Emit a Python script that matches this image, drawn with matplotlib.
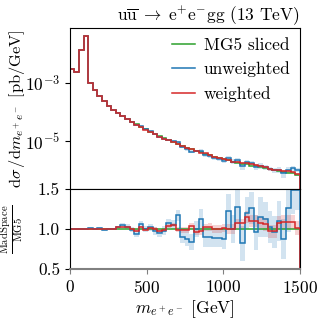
import numpy as np
import matplotlib
matplotlib.use("Agg")
import matplotlib.pyplot as plt
from matplotlib.ticker import NullLocator, FixedLocator

plt.rcParams["font.family"] = "serif"
plt.rcParams["font.serif"] = ["cmr10"]
plt.rcParams["mathtext.fontset"] = "cm"
plt.rcParams["axes.formatter.use_mathtext"] = True
plt.rcParams["font.size"] = 12.5

# 50 bins of 30 GeV
bin_edges = list(range(0, 1501, 30))

mg5_sliced = [
    2.95e-3, 2.45e-3, 1.35e-2, 4.07e-2, 1.00e-3, 5.62e-4, 3.55e-4, 2.40e-4, 1.58e-4, 1.17e-4,
    9.12e-5, 7.24e-5, 5.75e-5, 4.57e-5, 3.72e-5, 3.02e-5, 2.51e-5, 2.09e-5, 1.74e-5, 1.45e-5,
    1.23e-5, 1.05e-5, 9.12e-6, 7.76e-6, 6.76e-6, 5.89e-6, 5.13e-6, 4.57e-6, 4.07e-6, 3.63e-6,
    3.24e-6, 2.88e-6, 2.63e-6, 2.34e-6, 2.14e-6, 1.95e-6, 1.78e-6, 1.66e-6, 1.55e-6, 1.41e-6,
    1.32e-6, 1.23e-6, 1.15e-6, 1.07e-6, 1.00e-6, 9.33e-7, 8.71e-7, 8.13e-7, 7.59e-7, 6.92e-7,
]

ratio_unweighted = [
    1.0, 1.0, 1.0, 1.0, 1.01, 1.0, 1.01, 0.99, 1.0, 1.0,
    1.02, 1.045, 1.03, 0.99, 0.94, 1.06, 1.0, 1.02, 0.98, 0.95,
    0.98, 1.07, 1.055, 1.17, 0.9, 0.88, 0.84, 1.0, 1.13, 0.9,
    0.9, 0.89, 0.89, 0.88, 1.22, 1.0, 1.28, 0.82, 1.2, 1.26,
    0.96, 1.15, 1.12, 1.03, 0.96, 1.1, 0.875, 1.26, 1.49, 1.49,
]
err_unweighted = [
    0.01, 0.01, 0.01, 0.01, 0.01, 0.01, 0.012, 0.014, 0.016, 0.018,
    0.02, 0.025, 0.03, 0.03, 0.035, 0.04, 0.04, 0.045, 0.05, 0.05,
    0.055, 0.06, 0.06, 0.07, 0.08, 0.09, 0.1, 0.1, 0.12, 0.12,
    0.12, 0.12, 0.12, 0.13, 0.22, 0.18, 0.22, 0.22, 0.2, 0.2,
    0.22, 0.25, 0.22, 0.2, 0.2, 0.25, 0.25, 0.3, 0.3, 0.25,
]

ratio_weighted = [
    1.0, 1.0, 1.0, 1.0, 1.0, 1.0, 1.0, 1.0, 1.0, 1.0,
    1.02, 1.02, 1.03, 1.0, 0.98, 1.02, 0.99, 1.01, 1.0, 0.97,
    0.99, 1.04, 1.05, 0.99, 0.99, 0.99, 1.04, 0.96, 0.97, 1.02,
    1.03, 1.0, 1.0, 1.01, 1.0, 1.0, 1.07, 1.07, 1.15, 1.1,
    1.1, 1.08, 1.06, 0.97, 0.97, 1.08, 1.09, 1.09, 1.09, 1.01,
]
err_weighted = [
    0.005, 0.005, 0.005, 0.005, 0.005, 0.005, 0.006, 0.006, 0.007, 0.008,
    0.01, 0.01, 0.012, 0.012, 0.014, 0.015, 0.016, 0.018, 0.02, 0.02,
    0.025, 0.025, 0.03, 0.03, 0.035, 0.035, 0.04, 0.04, 0.045, 0.045,
    0.05, 0.05, 0.05, 0.05, 0.06, 0.06, 0.06, 0.06, 0.07, 0.07,
    0.07, 0.07, 0.08, 0.08, 0.08, 0.08, 0.09, 0.09, 0.09, 0.09,
]

green = "#2ca02c"
blue = "#1f77b4"
red = "#d62728"

edges = np.array(bin_edges)
mg5 = np.array(mg5_sliced)
ru = np.array(ratio_unweighted)
eu = np.array(err_unweighted)
rw = np.array(ratio_weighted)
ew = np.array(err_weighted)

fig = plt.figure(figsize=(3.19, 3.19), dpi=100)
ax = fig.add_axes([0.219, 0.4075, 0.721, 0.5045])
axr = fig.add_axes([0.219, 0.157, 0.721, 0.2505], sharex=ax)

# upper panel
ax.stairs(mg5 * (ru + eu), edges, baseline=mg5 * (ru - eu), fill=True, color=blue, alpha=0.2, lw=0)
ax.stairs(mg5 * (rw + ew), edges, baseline=mg5 * (rw - ew), fill=True, color=red, alpha=0.2, lw=0)
ax.stairs(mg5, edges, color=green, lw=1.1, label="MG5 sliced")
ax.stairs(mg5 * ru, edges, color=blue, lw=1.1, label="unweighted")
ax.stairs(mg5 * rw, edges, color=red, lw=1.1, label="weighted")

ax.set_yscale("log")
ax.set_ylim(2.2e-7, 0.079)
ax.yaxis.set_major_locator(FixedLocator([1e-7, 1e-5, 1e-3, 1e-1]))
ax.yaxis.set_minor_locator(NullLocator())
ax.tick_params(axis="x", which="both", bottom=False, labelbottom=False)
ax.set_ylabel(r"$\mathrm{d}\sigma\,/\mathrm{d}m_{e^+e^-}$ [pb/GeV]", fontsize=11.8)
ax.yaxis.set_label_coords(-0.185, 0.5)
ax.set_title(r"$\mathrm{u\overline{u}}\;\rightarrow\;\mathrm{e^{+}e^{-}gg}$ (13 TeV)",
             loc="right", pad=4, fontsize=12.5)
ax.legend(loc="upper right", frameon=False, handlelength=1.3, labelspacing=0.5,
          borderaxespad=0.15, handletextpad=0.5)

# ratio panel
axr.stairs(ru + eu, edges, baseline=ru - eu, fill=True, color=blue, alpha=0.2, lw=0)
axr.stairs(rw + ew, edges, baseline=rw - ew, fill=True, color=red, alpha=0.2, lw=0)
axr.stairs(np.ones_like(mg5), edges, color=green, lw=1.1)
axr.stairs(ru, edges, color=blue, lw=1.1)
axr.stairs(rw, edges, color=red, lw=1.1)

axr.set_ylim(0.5, 1.5)
axr.set_xlim(0, 1500)
axr.yaxis.set_major_locator(FixedLocator([0.5, 1.0, 1.5]))
axr.set_yticklabels(["0.5", "1.0", "1.5"])
axr.xaxis.set_major_locator(FixedLocator([0, 500, 1000, 1500]))
axr.spines["bottom"].set_color("#808080")
axr.spines["bottom"].set_linewidth(1.5)
axr.tick_params(axis="x", color="#808080")
axr.set_xlabel(r"$m_{e^+e^-}$ [GeV]", labelpad=2)
fig.text(12 / 319, 1 - 229 / 319, r"$\frac{\mathrm{MadSpace}}{\mathrm{MG5}}$",
         rotation=90, ha="center", va="center", fontsize=11)

fig.savefig("out.png", dpi=100)
